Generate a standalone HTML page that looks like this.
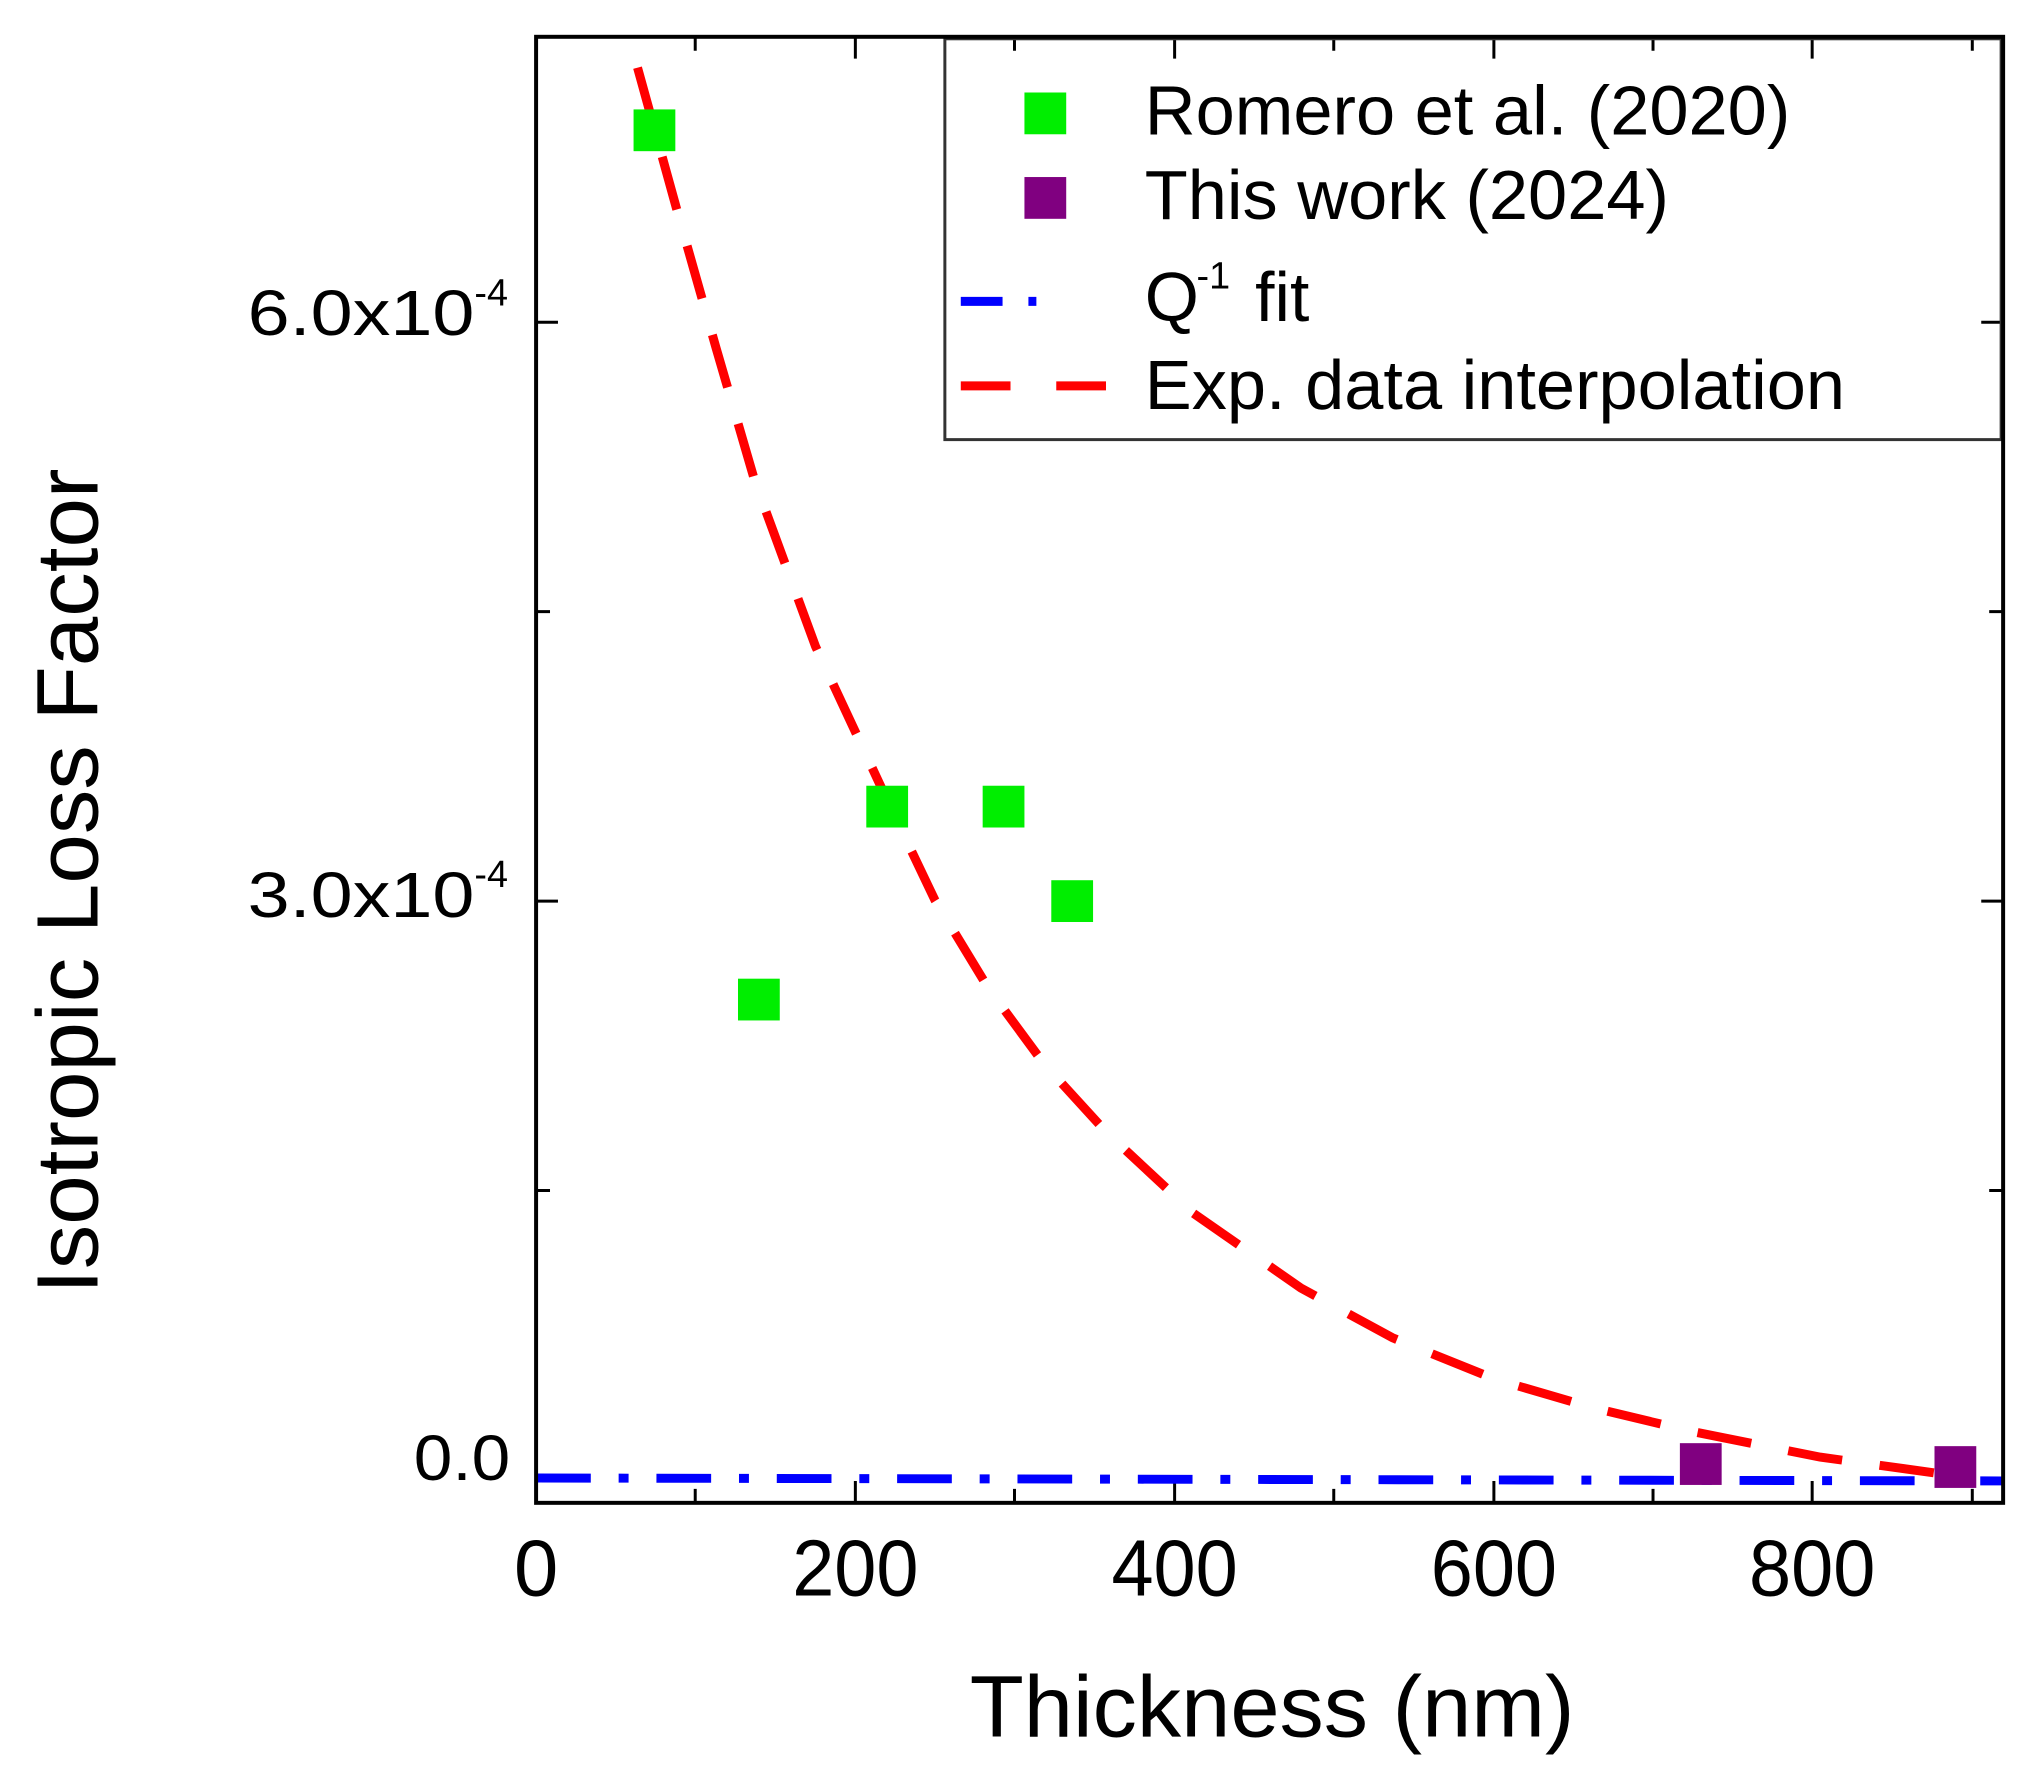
<!DOCTYPE html>
<html><head><meta charset="utf-8"><style>html,body{margin:0;padding:0;background:#fff}svg{display:block}</style></head>
<body>
<svg width="2038" height="1785" viewBox="0 0 2038 1785" xmlns="http://www.w3.org/2000/svg" font-family="Liberation Sans, Arial, sans-serif">
<rect width="2038" height="1785" fill="#fff"/>
<g transform="scale(0.9946)">
<g stroke="#000" stroke-width="3">
<path d="M539,1511v-22M699,1511v-14M860,1511v-22M1020,1511v-14M1181,1511v-22M1341,1511v-14M1502,1511v-22M1662,1511v-14M1822,1511v-22M1983,1511v-14"/>
<path d="M539,37v22M699,37v14M860,37v22M1020,37v14M1181,37v22M1341,37v14M1502,37v22M1662,37v14M1822,37v22M1983,37v14"/>
<path d="M539,1487h22M539,1197h14M539,906h22M539,615h14M539,324h22"/>
<path d="M2014,1487h-22M2014,1197h-14M2014,906h-22M2014,615h-14M2014,324h-22"/>
</g>
<rect x="950" y="39" width="1062" height="403" fill="none" stroke="#333" stroke-width="3"/>
<rect x="1030" y="93" width="42" height="42" fill="#00ee00"/>
<rect x="1030" y="178" width="42" height="42" fill="#800080"/>
<path d="M966,303h110" stroke="#0000ff" stroke-width="9" stroke-dasharray="42,26,8,100"/>
<path d="M966,388h160" stroke="#ff0000" stroke-width="9" stroke-dasharray="50,46"/>
<g font-size="70" fill="#000">
<text x="1151" y="135" textLength="649" lengthAdjust="spacingAndGlyphs">Romero et al. (2020)</text>
<text x="1151" y="220" textLength="527" lengthAdjust="spacingAndGlyphs">This work (2024)</text>
<text x="1151" y="323">Q</text><text x="1203" y="290" font-size="38">-1</text><text x="1262" y="323">fit</text>
<text x="1151" y="411" textLength="704" lengthAdjust="spacingAndGlyphs">Exp. data interpolation</text>
</g>
<path d="M539,1486L2014,1489" stroke="#0000ff" stroke-width="9" fill="none" stroke-dasharray="55,28,10,28"/>
<path d="M641,68L680,209L720,350L759,484L820,650L889,798L940,905L994,994L1050,1070L1112,1138L1200,1220L1308,1295L1400,1345L1504,1387L1600,1415L1700,1439L1830,1465L1975,1485" stroke="#ff0000" stroke-width="9" fill="none" stroke-dasharray="55,38"/>
<g fill="#00ee00">
<rect x="637" y="110" width="42" height="42"/>
<rect x="742" y="984" width="42" height="42"/>
<rect x="871" y="790" width="42" height="42"/>
<rect x="988" y="790" width="42" height="42"/>
<rect x="1057" y="885" width="42" height="42"/>
</g>
<g fill="#800080">
<rect x="1689" y="1451" width="42" height="42"/>
<rect x="1945" y="1454" width="42" height="42"/>
</g>
<rect x="539" y="37" width="1475" height="1474" fill="none" stroke="#000" stroke-width="4"/>
<g font-size="80" text-anchor="middle" fill="#000">
<text x="539" y="1604">0</text>
<text x="860" y="1604" textLength="127" lengthAdjust="spacingAndGlyphs">200</text>
<text x="1181" y="1604" textLength="127" lengthAdjust="spacingAndGlyphs">400</text>
<text x="1502" y="1604" textLength="127" lengthAdjust="spacingAndGlyphs">600</text>
<text x="1822" y="1604" textLength="127" lengthAdjust="spacingAndGlyphs">800</text>
</g>
<g font-size="64" fill="#000">
<text x="416" y="1488" textLength="97" lengthAdjust="spacingAndGlyphs">0.0</text>
<text x="249" y="922" textLength="228" lengthAdjust="spacingAndGlyphs">3.0x10</text><text x="477" y="892" font-size="38">-4</text>
<text x="249" y="337" textLength="228" lengthAdjust="spacingAndGlyphs">6.0x10</text><text x="477" y="307" font-size="38">-4</text>
</g>
<text x="975" y="1746" font-size="88" textLength="608" lengthAdjust="spacingAndGlyphs">Thickness (nm)</text>
<text transform="translate(98,1301) rotate(-90)" font-size="88" textLength="830" lengthAdjust="spacingAndGlyphs">Isotropic Loss Factor</text>
</g>
</svg>
</body></html>
